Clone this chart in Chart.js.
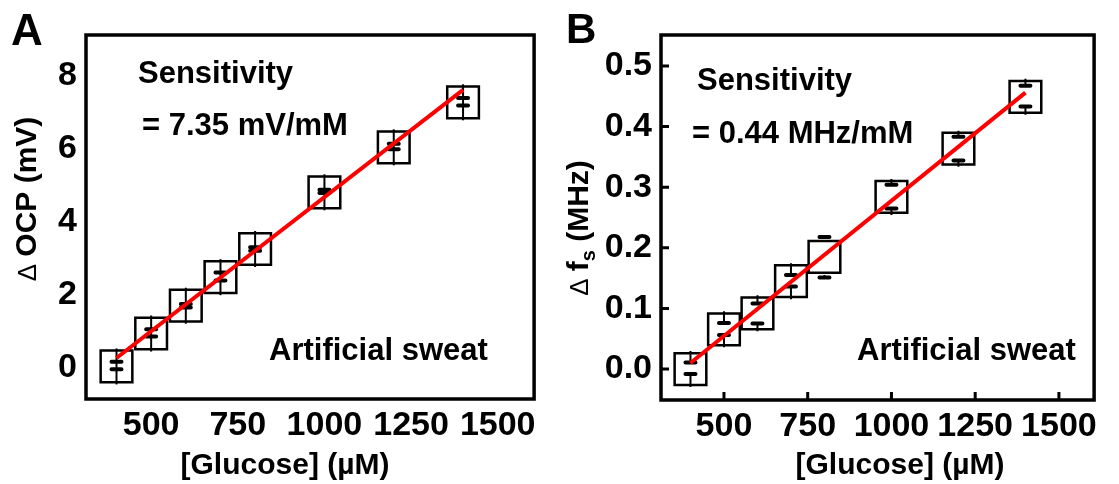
<!DOCTYPE html>
<html>
<head>
<meta charset="utf-8">
<script src="https://cdn.jsdelivr.net/npm/chart.js@4.4.1/dist/chart.umd.min.js"></script>
<style>
  html, body { margin: 0; padding: 0; background: #fff; }
  #wrap { position: relative; width: 1119px; height: 484px; }
  canvas { position: absolute; top: 0; }
  #chartA { left: 0; }
  #chartB { left: 559px; }
</style>
</head>
<body>
<div id="wrap">
  <canvas id="chartA" width="559" height="484"></canvas>
  <canvas id="chartB" width="560" height="484"></canvas>
</div>
<script>
// Glucose concentrations (µM)
const glucose = [400, 500, 600, 700, 800, 1000, 1200, 1400];
const xTicks = [500, 750, 1000, 1250, 1500];
const fitRange = [400, 1400];

// Panel A - OCP shift (mV)
const ocpMean = [0.04, 0.94, 1.70, 2.48, 3.25, 4.80, 6.03, 7.26];
const ocpLow = [-0.04, 0.86, 1.65, 2.39, 3.20, 4.78, 5.98, 7.17];
const ocpHigh = [0.17, 1.06, 1.75, 2.61, 3.30, 4.87, 6.13, 7.38];
const ocpFit = [0.27, 7.60];
const ocpTicks = [0, 2, 4, 6, 8];

// Panel B - resonance frequency shift (MHz)
const fsMean = [0.0, 0.0655, 0.092, 0.145, 0.185, 0.284, 0.3635, 0.449];
const fsLow = [-0.008, 0.056, 0.075, 0.136, 0.151, 0.265, 0.344, 0.433];
const fsHigh = [0.011, 0.076, 0.108, 0.155, 0.218, 0.304, 0.383, 0.4675];
const fsFit = [0.010, 0.456];
const fsTicks = [0, 0.1, 0.2, 0.3, 0.4, 0.5];

const FAMILY = '"Liberation Sans", Arial, sans-serif';
const font = (size, weight = "bold") => `${weight} ${size}px ${FAMILY}`;

// Frame, error bars, inward ticks, titles and notes
const panelDecor = {
  id: "panelDecor",
  beforeDatasetsDraw(chart, args, opts) {
    const { ctx, scales: { x, y } } = chart;
    const half = opts.boxHalf;
    ctx.save();
    ctx.strokeStyle = "#000";
    opts.mean.forEach((m, i) => {
      const px = x.getPixelForValue(glucose[i]);
      const pm = y.getPixelForValue(m);
      const pl = y.getPixelForValue(opts.low[i]);
      const ph = y.getPixelForValue(opts.high[i]);
      const top = pm - half - 2;
      const bottom = pm + half + 2;
      ctx.lineWidth = 2;
      ctx.lineCap = "butt";
      ctx.beginPath();
      if (opts.fullStem) {
        ctx.moveTo(px, top);
        ctx.lineTo(px, bottom);
      } else {
        ctx.moveTo(px, top);
        ctx.lineTo(px, ph);
        ctx.moveTo(px, pl);
        ctx.lineTo(px, bottom);
      }
      ctx.stroke();
      ctx.lineWidth = 4;
      ctx.lineCap = "round";
      ctx.beginPath();
      ctx.moveTo(px - opts.capHalf, ph);
      ctx.lineTo(px + opts.capHalf, ph);
      ctx.moveTo(px - opts.capHalf, pl);
      ctx.lineTo(px + opts.capHalf, pl);
      ctx.stroke();
    });
    ctx.restore();
  },
  afterDraw(chart, args, opts) {
    const { ctx, chartArea: a, scales: { x, y } } = chart;
    ctx.save();
    ctx.strokeStyle = "#000";
    ctx.fillStyle = "#000";

    // plot frame
    ctx.lineWidth = 3.5;
    ctx.strokeRect(a.left, a.top, a.right - a.left, a.bottom - a.top);

    // inward tick marks
    if (opts.inwardTicks) {
      ctx.lineWidth = 3;
      ctx.beginPath();
      y.ticks.forEach((t) => {
        const py = y.getPixelForValue(t.value);
        ctx.moveTo(a.left, py);
        ctx.lineTo(a.left + 8, py);
      });
      x.ticks.forEach((t) => {
        const px = x.getPixelForValue(t.value);
        ctx.moveTo(px, a.bottom);
        ctx.lineTo(px, a.bottom - 8);
      });
      ctx.stroke();
    }

    // x title
    ctx.font = font(30);
    ctx.textAlign = "center";
    ctx.textBaseline = "alphabetic";
    ctx.fillText(opts.xTitle.text, opts.xTitle.x, opts.xTitle.y);

    // y title, rotated, built from pieces (delta sign, subscript)
    const yt = opts.yTitle;
    ctx.save();
    ctx.translate(yt.x, yt.y);
    ctx.rotate(-Math.PI / 2);
    ctx.textAlign = "left";
    let total = 0;
    yt.parts.forEach((p) => {
      ctx.font = font(p.size, p.weight);
      total += ctx.measureText(p.text).width;
    });
    let cx = -total / 2;
    yt.parts.forEach((p) => {
      ctx.font = font(p.size, p.weight);
      ctx.fillText(p.text, cx, p.dy || 0);
      cx += ctx.measureText(p.text).width;
    });
    ctx.restore();

    // notes inside the plot
    ctx.font = font(31);
    ctx.textAlign = "left";
    opts.notes.forEach((n) => ctx.fillText(n.text, n.x, n.y));

    // panel letter
    ctx.font = font(opts.letter.size);
    ctx.fillText(opts.letter.text, opts.letter.x, opts.letter.y);
    ctx.restore();
  },
};

function makeChart(id, cfg) {
  return new Chart(document.getElementById(id), {
    type: "scatter",
    data: {
      datasets: [
        {
          // linear fit
          data: fitRange.map((g, i) => ({ x: g, y: cfg.fit[i] })),
          showLine: true,
          borderColor: "#ff0000",
          borderWidth: 4,
          pointRadius: 0,
          order: 0,
        },
        {
          data: glucose.map((g, i) => ({ x: g, y: cfg.mean[i] })),
          pointStyle: "rect",
          pointRadius: 22.4,
          borderColor: "#000",
          borderWidth: 2.5,
          backgroundColor: "rgba(0,0,0,0)",
          order: 1,
        },
      ],
    },
    options: {
      responsive: false,
      animation: false,
      devicePixelRatio: 1,
      layout: { padding: { top: 35, right: cfg.padRight, bottom: 0, left: 0 } },
      plugins: {
        legend: { display: false },
        tooltip: { enabled: false },
        panelDecor: {
          mean: cfg.mean,
          low: cfg.low,
          high: cfg.high,
          boxHalf: 16,
          capHalf: 5,
          fullStem: cfg.fullStem,
          inwardTicks: cfg.inwardTicks,
          xTitle: cfg.xTitle,
          yTitle: cfg.yTitle,
          notes: cfg.notes,
          letter: cfg.letter,
        },
      },
      scales: {
        x: {
          type: "linear",
          min: 312,
          max: 1605,
          afterFit: (s) => { s.height = cfg.xHeight; },
          afterBuildTicks: (s) => { s.ticks = xTicks.map((v) => ({ value: v })); },
          grid: { display: false, drawTicks: false },
          border: { display: false },
          ticks: {
            padding: 6,
            color: "#000",
            maxRotation: 0,
            font: { family: FAMILY, size: 34, weight: "bold" },
            callback: (v) => String(v),
          },
        },
        y: {
          type: "linear",
          min: cfg.yMin,
          max: cfg.yMax,
          afterFit: (s) => { s.width = cfg.yWidth; },
          afterBuildTicks: (s) => { s.ticks = cfg.yTicks.map((v) => ({ value: v })); },
          grid: { display: false, drawTicks: false },
          border: { display: false },
          ticks: {
            padding: 9,
            color: "#000",
            font: { family: FAMILY, size: 34, weight: "bold" },
            callback: cfg.yFormat,
          },
        },
      },
    },
    plugins: [panelDecor],
  });
}

makeChart("chartA", {
  mean: ocpMean,
  low: ocpLow,
  high: ocpHigh,
  fit: ocpFit,
  yTicks: ocpTicks,
  yMin: -0.85,
  yMax: 9.1,
  yWidth: 86,
  xHeight: 85,
  padRight: 20,
  fullStem: true,
  inwardTicks: false,
  yFormat: (v) => String(v),
  xTitle: { text: "[Glucose] (µM)", x: 285, y: 474 },
  yTitle: {
    x: 36,
    y: 199,
    parts: [
      { text: "Δ ", size: 26, weight: "normal" },
      { text: "OCP (mV)", size: 30, weight: "bold" },
    ],
  },
  notes: [
    { text: "Sensitivity", x: 138, y: 83 },
    { text: "= 7.35 mV/mM", x: 142, y: 135 },
    { text: "Artificial sweat", x: 269, y: 360 },
  ],
  letter: { text: "A", x: 11, y: 45, size: 44 },
});

makeChart("chartB", {
  mean: fsMean,
  low: fsLow,
  high: fsHigh,
  fit: fsFit,
  yTicks: fsTicks,
  yMin: -0.051,
  yMax: 0.551,
  yWidth: 102,
  xHeight: 84,
  padRight: 6,
  fullStem: false,
  inwardTicks: true,
  yFormat: (v) => v.toFixed(1),
  xTitle: { text: "[Glucose] (µM)", x: 341, y: 474 },
  yTitle: {
    x: 29,
    y: 228,
    parts: [
      { text: "Δ ", size: 26, weight: "normal" },
      { text: "f", size: 30, weight: "bold" },
      { text: "s", size: 20, weight: "bold", dy: 7 },
      { text: " (MHz)", size: 30, weight: "bold" },
    ],
  },
  notes: [
    { text: "Sensitivity", x: 138, y: 90 },
    { text: "= 0.44 MHz/mM", x: 133, y: 143 },
    { text: "Artificial sweat", x: 298, y: 360 },
  ],
  letter: { text: "B", x: 7, y: 43, size: 42 },
});
</script>
</body>
</html>
